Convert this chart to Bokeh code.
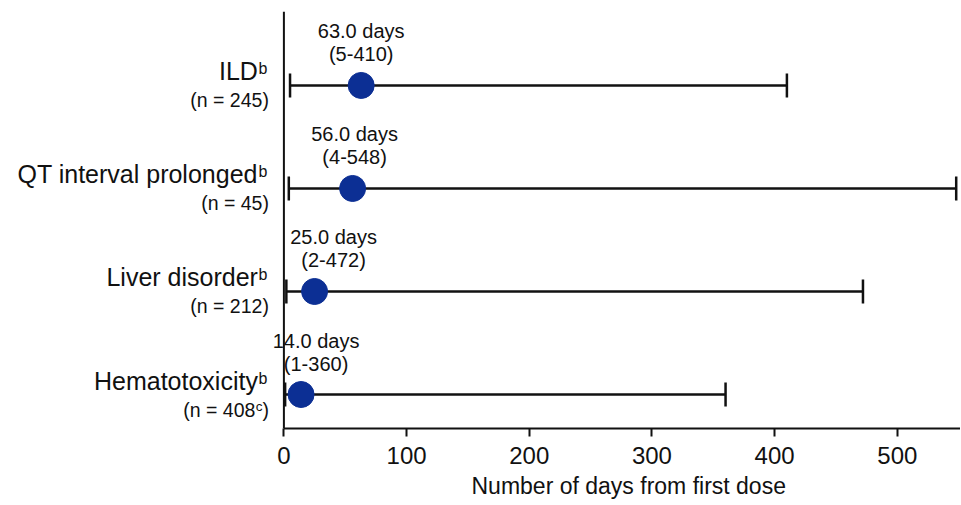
import math
from bokeh.plotting import figure
from bokeh.models import Range1d, FixedTicker, ColumnDataSource, LabelSet, Span, Title
from bokeh.embed import file_html
from bokeh.resources import INLINE
from bokeh.core.properties import value

# ---- data ----
categories = ["ILD", "QT interval prolonged", "Liver disorder", "Hematotoxicity"]
category_sup = ["b", "b", "b", "b"]
n_values = [245, 45, 212, 408]
n_sup = ["", "", "", "c"]
median_days = [63.0, 56.0, 25.0, 14.0]
min_days = [5, 4, 2, 1]
max_days = [410, 548, 472, 360]
x_ticks = [0, 100, 200, 300, 400, 500]
x_label = "Number of days from first dose"

# style: horizontal nudge (px) of the median/range annotations away from the axis
annot_nudge = [0, 2, 19, 15]

FONT = "Liberation Sans"
DOT = "#0c2f94"
INK = "#111111"

X_START, X_END = -231.0, 551.5   # left part of the frame holds the row labels

rows = [len(categories) - 1 - i for i in range(len(categories))]  # first category on top

src = ColumnDataSource(dict(
    row=rows, med=median_days, lo=min_days, hi=max_days,
    line1=[f"{m:.1f} days" for m in median_days],
    line2=[f"({a}-{b})" for a, b in zip(min_days, max_days)],
    nudge=annot_nudge,
    zero=[0] * len(rows),
    cat=categories, csup=category_sup,
))

p = figure(width=960, height=504, output_backend="svg", toolbar_location=None,
           x_range=Range1d(X_START, X_END), y_range=Range1d(-0.33, 3.718),
           min_border_left=0, min_border_right=0, min_border_top=11,
           min_border_bottom=76)
p.outline_line_color = None
p.grid.visible = False
p.background_fill_color = "white"
p.border_fill_color = "white"
p.yaxis.visible = False

# vertical axis line at x = 0
p.add_layout(Span(location=0, dimension="height", line_color=INK, line_width=2))

# whiskers
p.segment(x0="lo", x1="hi", y0="row", y1="row", source=src,
          line_color=INK, line_width=2.5)
for col in ("lo", "hi"):
    p.scatter(x=col, y="row", source=src, marker="dash", angle=math.pi / 2,
              size=24, line_color=INK, line_width=2.5)
# median dots
p.scatter(x="med", y="row", source=src, marker="circle", size=26,
          fill_color=DOT, line_color=DOT)


def labels(source, x, y, text, xo, yo, size, align, baseline="alphabetic"):
    p.add_layout(LabelSet(x=x, y=y, text=text, source=source,
                          x_offset=xo, y_offset=yo, text_align=align,
                          text_baseline=baseline, text_font=value(FONT),
                          text_font_size=size, text_color=INK))


# annotations above the dots
labels(src, "med", "row", "line1", "nudge", 54, "20px", "center", "middle")
labels(src, "med", "row", "line2", "nudge", 31, "20px", "center", "middle")

# category labels with superscripts
labels(src, "zero", "row", "cat", -26, 5, "25px", "right")
labels(src, "zero", "row", "csup", -25.5, 11, "16px", "left")

# n lines
n_main = dict(x=[], y=[], text=[], xo=[])
n_supd = dict(x=[], y=[], text=[], xo=[])
for r, n, s in zip(rows, n_values, n_sup):
    if s:
        n_main["x"] += [0, 0]; n_main["y"] += [r, r]
        n_main["text"] += [f"(n = {n}", ")"]; n_main["xo"] += [-28.5, -15]
        n_supd["x"].append(0); n_supd["y"].append(r)
        n_supd["text"].append(s); n_supd["xo"].append(-21.5)
    else:
        n_main["x"].append(0); n_main["y"].append(r)
        n_main["text"].append(f"(n = {n})"); n_main["xo"].append(-15)

labels(ColumnDataSource(n_main), "x", "y", "text", "xo", -22, "19.5px", "right")
labels(ColumnDataSource(n_supd), "x", "y", "text", "xo", -16, "13.5px", "right")

# x axis (only drawn from 0 to the right edge)
xa = p.xaxis[0]
xa.bounds = (0, X_END)
xa.ticker = FixedTicker(ticks=x_ticks)
xa.major_label_text_font = FONT
xa.major_label_text_font_size = "24px"
xa.major_label_text_color = INK
xa.major_label_standoff = 10
xa.axis_line_width = 2
xa.axis_line_color = INK
xa.major_tick_line_width = 2
xa.major_tick_line_color = INK
xa.major_tick_out = 8
xa.major_tick_in = 0
xa.minor_tick_line_color = None

# axis title, placed under the drawn part of the axis
p.add_layout(Title(text=x_label, align="left", offset=471, standoff=8,
                   text_font=FONT, text_font_style="normal",
                   text_font_size="23px", text_color=INK), "below")

open("out.html", "w").write(file_html(p, INLINE))
